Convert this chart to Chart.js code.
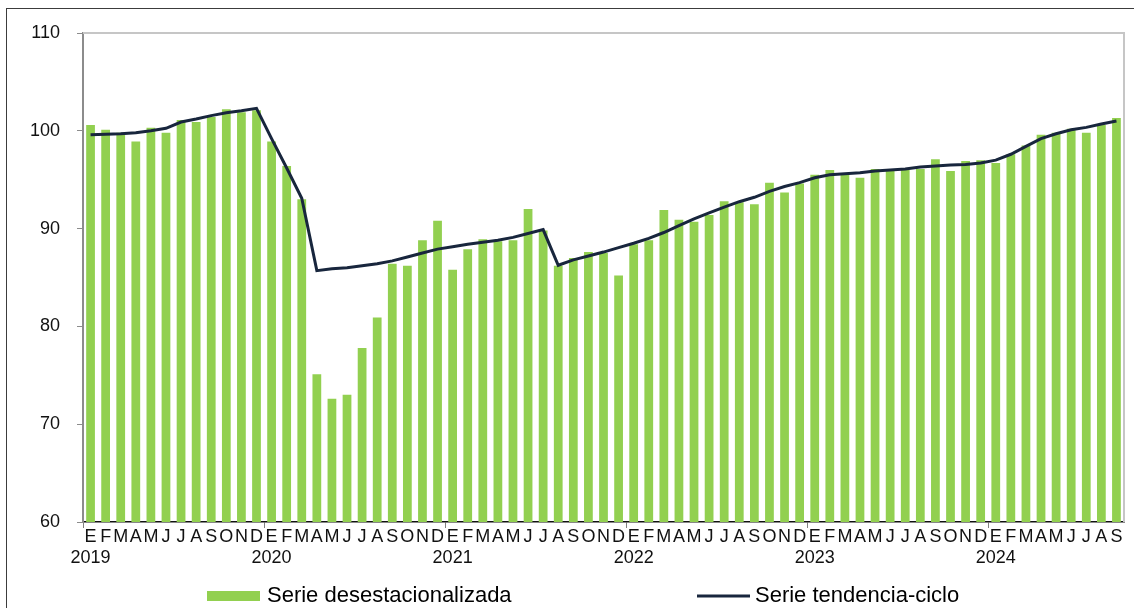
<!DOCTYPE html>
<html>
<head>
<meta charset="UTF-8">
<title>Serie desestacionalizada y tendencia-ciclo</title>
<script src="https://cdn.jsdelivr.net/npm/chart.js@4.4.1/dist/chart.umd.min.js"></script>
<style>
  html, body { margin: 0; padding: 0; background: #fff; }
  #holder { width: 1134px; height: 608px; position: relative; }
</style>
</head>
<body>
<div id="holder">
  <canvas id="grafica" width="1134" height="608"></canvas>
</div>
<script>
// meses y años del eje
const meses = ['E', 'F', 'M', 'A', 'M', 'J', 'J', 'A', 'S', 'O', 'N', 'D'];
const anios = ['2019', '2020', '2021', '2022', '2023', '2024'];
const mesesUltimoAnio = 9; // enero a septiembre de 2024

// serie desestacionalizada (barras)
const serieDesest = [
  100.6, 100.1, 99.8, 98.9, 100.3, 99.8, 101.1, 100.9, 101.4, 102.2, 101.9, 102.1,
  98.9, 96.4, 93.0, 75.1, 72.6, 73.0, 77.8, 80.9, 86.4, 86.2, 88.8, 90.8,
  85.8, 87.9, 88.9, 88.7, 88.8, 92.0, 89.8, 86.2, 87.0, 87.6, 87.5, 85.2,
  88.4, 88.8, 91.9, 90.9, 90.7, 91.4, 92.8, 92.7, 92.5, 94.7, 93.7, 94.6,
  95.5, 96.0, 95.5, 95.2, 96.1, 95.9, 96.0, 96.1, 97.1, 95.9, 96.9, 97.0,
  96.7, 97.6, 98.5, 99.6, 99.8, 100.2, 99.8, 100.6, 101.3
];

// serie tendencia-ciclo (línea)
const serieTendencia = [
  99.6, 99.65, 99.7, 99.8, 100.0, 100.25, 100.9, 101.2, 101.55, 101.85, 102.05, 102.3,
  99.2, 96.2, 93.1, 85.7, 85.9, 86.0, 86.2, 86.4, 86.7, 87.1, 87.5, 87.9,
  88.15, 88.4, 88.6, 88.8, 89.1, 89.5, 89.9, 86.25, 86.8, 87.2, 87.6, 88.05,
  88.5, 89.0, 89.6, 90.3, 91.0, 91.6, 92.2, 92.75, 93.2, 93.8, 94.3, 94.7,
  95.2, 95.5, 95.6, 95.7, 95.9, 96.0, 96.1, 96.3, 96.4, 96.5, 96.55, 96.7,
  97.0, 97.6, 98.4, 99.2, 99.7, 100.1, 100.35, 100.7, 101.0
];

const verde = '#92d050';
const azul = '#18263d';

// etiquetas: letra del mes y el año debajo de enero
const etiquetas = [];
anios.forEach(function (anio, a) {
  const n = a === anios.length - 1 ? mesesUltimoAnio : 12;
  for (let m = 0; m < n; m++) {
    etiquetas.push(m === 0 ? [meses[m], anio] : meses[m]);
  }
});

const fuente = "'Liberation Sans', Arial, sans-serif";
Chart.defaults.font.family = fuente;
Chart.defaults.color = '#111';

// marco exterior, borde del área de trazado y leyenda
const extras = {
  id: 'extras',
  beforeDatasetsDraw(chart) {
    const ctx = chart.ctx, a = chart.chartArea;
    ctx.save();
    ctx.strokeStyle = '#c6c6c6';
    ctx.lineWidth = 2;
    ctx.beginPath();
    ctx.moveTo(a.left, a.top);
    ctx.lineTo(a.right, a.top);
    ctx.lineTo(a.right, a.bottom);
    ctx.stroke();
    ctx.restore();
  },
  afterDraw(chart) {
    const ctx = chart.ctx;
    const ds = chart.data.datasets;
    ctx.save();
    ctx.strokeStyle = '#3c3c3c';
    ctx.lineWidth = 1;
    ctx.strokeRect(6.5, 8.5, chart.width + 20, chart.height + 20);

    ctx.font = '22px ' + fuente;
    ctx.fillStyle = '#000';
    ctx.textBaseline = 'alphabetic';
    // barras
    ctx.fillStyle = ds[0].backgroundColor;
    ctx.fillRect(207, 591, 53, 10);
    ctx.fillStyle = '#000';
    ctx.fillText(ds[0].label, 267, 602);
    // línea
    ctx.strokeStyle = ds[1].borderColor;
    ctx.lineWidth = 3;
    ctx.beginPath();
    ctx.moveTo(697, 596);
    ctx.lineTo(750, 596);
    ctx.stroke();
    ctx.fillText(ds[1].label, 755, 602);
    ctx.restore();
  }
};

new Chart(document.getElementById('grafica').getContext('2d'), {
  type: 'bar',
  data: {
    labels: etiquetas,
    datasets: [{
      type: 'bar',
      label: 'Serie desestacionalizada',
      data: serieDesest,
      backgroundColor: verde,
      barPercentage: 0.58,
      categoryPercentage: 1.0,
      order: 2
    }, {
      type: 'line',
      label: 'Serie tendencia-ciclo',
      data: serieTendencia,
      borderColor: azul,
      borderWidth: 3,
      pointRadius: 0,
      tension: 0,
      fill: false,
      order: 1
    }]
  },
  options: {
    responsive: false,
    animation: false,
    layout: { padding: { top: 33, right: 10, left: 0, bottom: 0 } },
    plugins: {
      legend: { display: false },
      tooltip: { enabled: false }
    },
    scales: {
      x: {
        offset: true,
        afterFit: function (scale) { scale.height = 86; },
        border: { color: '#111', width: 1.5 },
        grid: {
          offset: true,
          drawOnChartArea: false,
          tickLength: 6,
          color: function (c) { return c.index % 12 === 0 ? '#808080' : 'rgba(0,0,0,0)'; }
        },
        ticks: {
          autoSkip: false,
          maxRotation: 0,
          minRotation: 0,
          padding: -1,
          color: '#111',
          font: { size: 18, lineHeight: '21px' }
        }
      },
      y: {
        min: 60,
        max: 110,
        afterFit: function (scale) { scale.width = 83; },
        border: { color: '#8c8c8c', width: 2 },
        grid: {
          drawOnChartArea: false,
          tickLength: 6,
          color: '#8c8c8c'
        },
        ticks: {
          stepSize: 10,
          padding: 17,
          color: '#111',
          font: { size: 18 }
        }
      }
    }
  },
  plugins: [extras]
});
</script>
</body>
</html>
